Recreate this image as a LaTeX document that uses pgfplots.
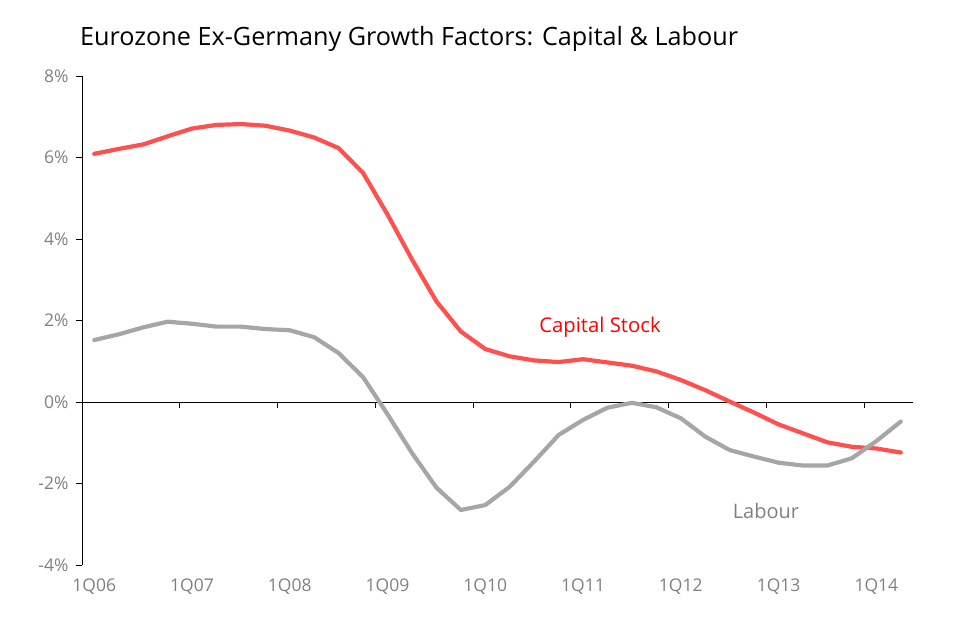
\documentclass[border=0pt]{standalone}
\usepackage{pgfplots}
\pgfplotsset{compat=1.18}
\usepackage{fontspec}
\setmainfont{Open Sans}
\definecolor{capred}{RGB}{255,80,80}
\definecolor{labgrey}{RGB}{166,166,166}
\definecolor{ticktxt}{RGB}{128,128,128}
\begin{document}
\begin{tikzpicture}[x=1pt,y=1pt]
\path[use as bounding box] (0,0) rectangle (978,639);
\begin{axis}[
  at={(82pt,74pt)}, anchor=south west,
  scale only axis, width=831pt, height=489pt,
  xmin=-0.5, xmax=33.5, ymin=-4, ymax=8,
  axis lines*=left,
  axis line style={black, line width=0.9pt},
  x axis line style={draw=none},
  ytick={-4,-2,0,2,4,6,8},
  yticklabels={-4\%,-2\%,0\%,2\%,4\%,6\%,8\%},
  ytick align=outside, major tick length=6pt,
  ytick style={black, line width=0.9pt},
  yticklabel style={font=\fontsize{17.5}{20}\selectfont, text=ticktxt, xshift=-4pt},
  xtick={0,4,8,12,16,20,24,28,32},
  xticklabels={1Q06,1Q07,1Q08,1Q09,1Q10,1Q11,1Q12,1Q13,1Q14},
  xtick style={draw=none},
  xticklabel style={font=\fontsize{17.5}{20}\selectfont, text=ticktxt, yshift=-10pt},
  clip=false,
]
\draw[black, line width=0.9pt] (axis cs:-0.5,0) -- (axis cs:33.5,0);
\pgfplotsinvokeforeach{3.5,7.5,11.5,15.5,19.5,23.5,27.5,31.5}{
  \draw[black, line width=0.9pt] (axis cs:#1,0) -- ([yshift=-6pt]axis cs:#1,0);
}
\addplot[capred, line width=4.2pt, line join=round, line cap=round] coordinates {
(0,6.09)(1,6.21)(2,6.32)(3,6.52)(4,6.71)(5,6.80)(6,6.82)(7,6.78)(8,6.66)(9,6.49)
(10,6.23)(11,5.62)(12,4.60)(13,3.50)(14,2.47)(15,1.73)(16,1.30)(17,1.12)(18,1.02)(19,0.98)
(20,1.05)(21,0.97)(22,0.89)(23,0.75)(24,0.54)(25,0.29)(26,0.01)(27,-0.26)(28,-0.55)(29,-0.77)
(30,-0.99)(31,-1.10)(32,-1.14)(33,-1.24)
};
\addplot[labgrey, line width=4.2pt, line join=round, line cap=round] coordinates {
(0,1.52)(1,1.66)(2,1.83)(3,1.97)(4,1.92)(5,1.85)(6,1.85)(7,1.79)(8,1.76)(9,1.59)
(10,1.20)(11,0.61)(12,-0.30)(13,-1.25)(14,-2.10)(15,-2.65)(16,-2.53)(17,-2.08)(18,-1.46)(19,-0.81)
(20,-0.44)(21,-0.14)(22,-0.02)(23,-0.13)(24,-0.40)(25,-0.85)(26,-1.18)(27,-1.34)(28,-1.49)(29,-1.56)
(30,-1.56)(31,-1.38)(32,-0.96)(33,-0.48)
};
\end{axis}
\node[anchor=base west, font=\fontsize{25.2}{29}\selectfont, inner sep=0pt] at (80,593) {Eurozone Ex-Germany Growth Factors: Capital \& Labour};
\node[font=\fontsize{20.3}{24}\selectfont, text=red, anchor=center] at (600,312) {Capital Stock};
\node[font=\fontsize{20}{24}\selectfont, text=ticktxt, anchor=center] at (766,128) {Labour};
\end{tikzpicture}
\end{document}
